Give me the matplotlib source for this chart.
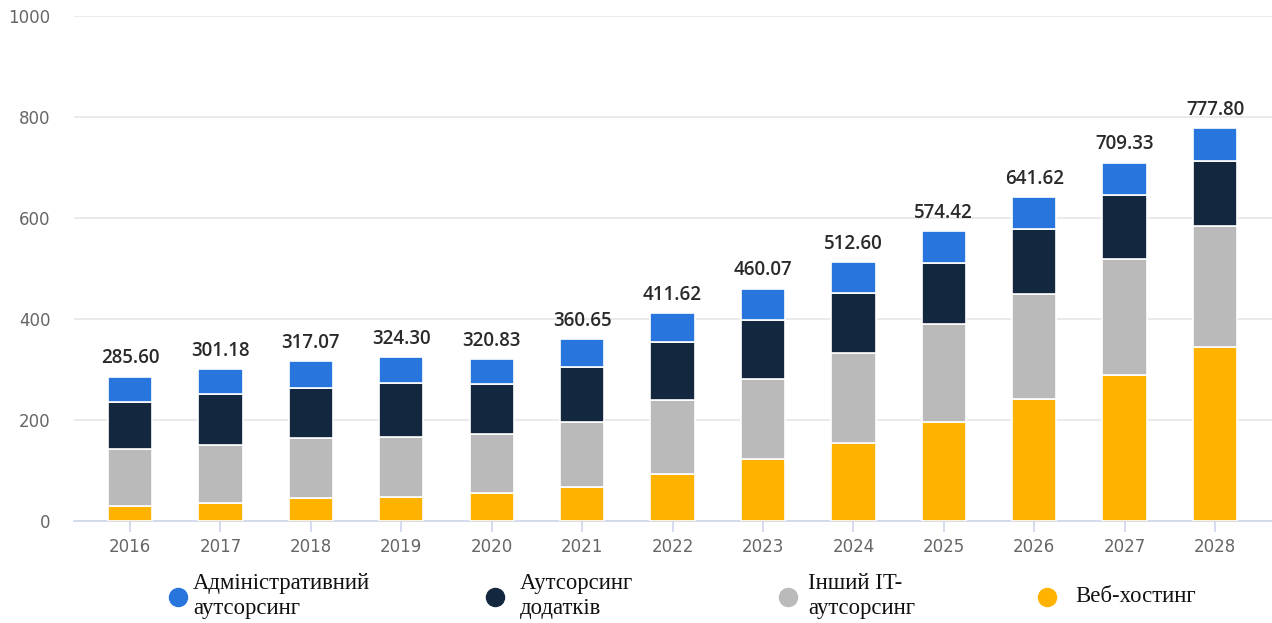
import matplotlib
matplotlib.use("Agg")
import matplotlib.pyplot as plt
from matplotlib.lines import Line2D
import numpy as np

years = ["2016", "2017", "2018", "2019", "2020", "2021", "2022", "2023", "2024", "2025", "2026", "2027", "2028"]
web_hosting = [30, 35, 45, 48, 56, 67, 94, 122, 155, 196, 241, 290, 344]
other_it = [112, 116, 119, 119, 116, 129, 145, 159, 177, 194, 209, 228, 241]
app_outsourcing = [93, 100, 100, 106, 99, 109, 116, 118, 119, 121, 128, 128, 128]
totals = [285.60, 301.18, 317.07, 324.30, 320.83, 360.65, 411.62, 460.07, 512.60, 574.42, 641.62, 709.33, 777.80]
admin_outsourcing = [round(t - a - b - c, 2) for t, a, b, c in zip(totals, web_hosting, other_it, app_outsourcing)]

labels = ["Адміністративний\nаутсорсинг", "Аутсорсинг\nдодатків", "Інший IT-\nаутсорсинг", "Веб-хостинг"]
colors = ["#2876dd", "#13273f", "#bababa", "#ffb200"]
yticks = [0, 200, 400, 600, 800, 1000]

W, H = 1272, 623
fig = plt.figure(figsize=(W / 100, H / 100), dpi=100)
ax = fig.add_axes([74 / W, 1 - 521 / H, (1272 - 74) / W, (521 - 16) / H])

x = np.arange(len(years))
bw = 0.49
series = [(web_hosting, colors[3]), (other_it, colors[2]), (app_outsourcing, colors[1]), (admin_outsourcing, colors[0])]
bottom = np.zeros(len(years))
for vals, col in series:
    v = np.array(vals, dtype=float)
    ax.bar(x, v, bw, bottom=bottom, color=col, edgecolor="white", linewidth=1.2, zorder=3)
    bottom += v

for xi, t in zip(x, totals):
    ax.annotate(f"{t:.2f}", (xi, t), xytext=(0, 6), textcoords="offset points",
                ha="center", va="bottom", fontsize=13.5, color="#2a2a2a",
                fontweight="semibold", family=["Open Sans", "DejaVu Sans"], zorder=5)

ax.set_xlim(-0.62, 12.63)
ax.set_ylim(0, 1000)
ax.set_yticks(yticks)
ax.set_yticklabels([str(v) for v in yticks])
ax.set_xticks(x)
ax.set_xticklabels(years)
ax.grid(axis="y", color="#e6e6e6", linewidth=1.2, zorder=0)
ax.set_axisbelow(True)
for s in ["top", "right", "left"]:
    ax.spines[s].set_visible(False)
ax.spines["bottom"].set_color("#ccd6eb")
ax.spines["bottom"].set_linewidth(1.2)
ax.tick_params(axis="y", length=0, pad=17, labelsize=12, labelcolor="#666666")
ax.tick_params(axis="x", length=8, width=1.2, color="#ccd6eb", pad=4, labelsize=12, labelcolor="#666666")

# legend
legend_items = [
    (178, 597, 193),
    (495, 597, 520),
    (788, 597, 808),
    (1047, 597, 1075),
]
for (mx, my, tx), lab, col in zip(legend_items, labels, colors):
    fig.add_artist(Line2D([mx / W], [1 - my / H], marker="o", markersize=13,
                          color=col, linestyle="none", transform=fig.transFigure))
    fig.text(tx / W, 1 - (my - 1) / H, lab, ha="left", va="center", fontsize=16.4,
             family=["Liberation Serif", "DejaVu Serif"], color="#111111", linespacing=1.22)

fig.savefig("out.png", dpi=100)
